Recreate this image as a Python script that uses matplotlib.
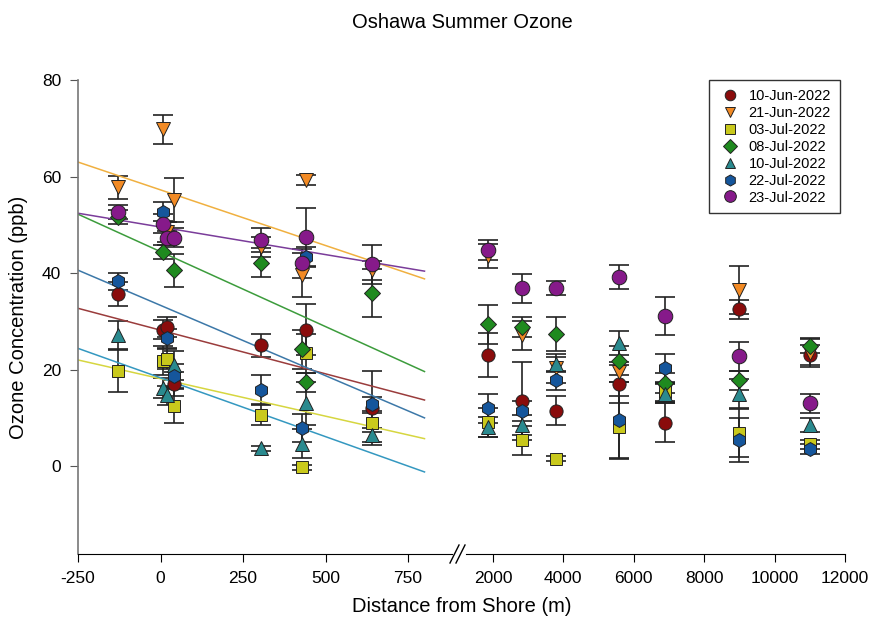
import matplotlib
matplotlib.use('Agg')
import matplotlib.pyplot as plt
from matplotlib.lines import Line2D

plt.rcParams['font.family'] = ['Liberation Sans', 'DejaVu Sans']
plt.rcParams['axes.unicode_minus'] = False

# sampling sites (m from shore)
sites = [-130, 8, 20, 42, 305, 430, 442, 640, 1870, 2830, 3790, 5580, 6900, 8980, 11000]

dates = ['10-Jun-2022', '21-Jun-2022', '03-Jul-2022', '08-Jul-2022',
         '10-Jul-2022', '22-Jul-2022', '23-Jul-2022']

jun10_x = [-130, 8, 20, 42, 305, 442, 640, 1870, 2830, 3790, 5580, 6900, 8980, 11000]
jun10_y = [35.7, 28.3, 28.8, 17.0, 25.0, 28.3, 12.0, 23.0, 13.5, 11.5, 17.0, 9.0, 32.5, 23.0]
jun10_e = [2.5, 2.0, 2.0, 2.5, 2.3, 5.2, 7.7, 4.5, 8.0, 3.0, 4.0, 4.0, 2.0, 2.0]

jun21_x = sites
jun21_y = [57.8, 69.8, 48.5, 55.1, 45.4, 39.6, 59.3, 40.6, 43.5, 27.1, 20.3, 19.5, 15.5, 36.5, 23.5]
jun21_e = [2.4, 3.0, 2.0, 4.6, 2.0, 4.6, 1.0, 2.0, 2.5, 3.0, 3.0, 2.0, 2.0, 5.0, 3.0]

jul03_x = sites
jul03_y = [19.8, 21.8, 22.2, 12.4, 10.6, -0.2, 23.4, 9.0, 9.1, 5.4, 1.5, 8.1, 15.3, 6.8, 4.5]
jul03_e = [4.5, 3.0, 2.0, 3.5, 2.0, 0.5, 4.0, 2.0, 3.0, 3.0, 0.5, 6.5, 2.0, 5.0, 1.0]

jul08_x = [-130, 8, 42, 305, 430, 442, 640, 1870, 2830, 3790, 5580, 6900, 8980, 11000]
jul08_y = [51.6, 44.4, 40.6, 42.1, 24.2, 17.4, 35.8, 29.4, 28.8, 27.4, 21.8, 17.2, 17.8, 24.9]
jul08_e = [1.5, 1.5, 3.4, 3.0, 4.0, 2.0, 5.0, 4.0, 2.0, 3.5, 3.0, 2.0, 2.0, 1.5]

jul10_x = sites
jul10_y = [27.1, 16.2, 14.7, 20.9, 3.7, 4.6, 13.0, 6.4, 8.1, 8.5, 21.1, 25.5, 15.0, 15.0, 8.5]
jul10_e = [3.0, 2.0, 2.0, 3.0, 0.5, 3.0, 4.5, 1.5, 2.0, 2.0, 1.5, 2.5, 2.0, 3.0, 1.5]

jul22_x = sites
jul22_y = [38.3, 52.7, 26.5, 18.7, 15.8, 7.9, 43.3, 12.9, 12.0, 11.4, 17.8, 9.5, 20.3, 5.4, 3.5]
jul22_e = [1.8, 2.0, 2.0, 2.5, 3.0, 3.0, 2.0, 1.5, 3.0, 2.0, 2.0, 8.0, 3.0, 4.5, 1.0]

jul23_x = sites
jul23_y = [52.6, 50.2, 47.3, 47.3, 46.8, 42.0, 47.5, 41.8, 44.8, 36.9, 36.9, 39.2, 31.1, 22.8, 13.0]
jul23_e = [1.5, 2.0, 1.5, 2.0, 2.5, 3.0, 6.0, 4.0, 2.0, 3.0, 1.5, 2.5, 4.0, 3.0, 2.0]

# regression lines for the near-shore sites, read at x=-250 and x=800
trend_x = [-250, 800]
trend_start = [32.7, 63.0, 22.0, 52.2, 24.4, 40.6, 52.4]
trend_end = [13.7, 38.8, 5.7, 19.6, -1.2, 10.0, 40.4]

xs = [jun10_x, jun21_x, jul03_x, jul08_x, jul10_x, jul22_x, jul23_x]
ys = [jun10_y, jun21_y, jul03_y, jul08_y, jul10_y, jul22_y, jul23_y]
es = [jun10_e, jun21_e, jul03_e, jul08_e, jul10_e, jul22_e, jul23_e]

colors = ['#8a0c0c', '#f28a24', '#c9c91c', '#1f8a1f', '#2a8a8f', '#15569c', '#861a8a']
line_colors = ['#9a3c3c', '#f0b040', '#d6d640', '#3c9c3c', '#3498c0', '#3c78a8', '#7a3c9a']
markers = ['o', 'v', 's', 'D', '^', 'h', 'o']
msizes = [9.5, 9.5, 8.5, 8.5, 9.5, 10, 10.5]

fig = plt.figure(figsize=(8.72, 6.29), dpi=100)
W, H = 872.0, 629.0
bot = 1 - 554 / H
top = 1 - 80 / H
ax1 = fig.add_axes([78 / W, bot, (452 - 78) / W, top - bot])
ax2 = fig.add_axes([466 / W, bot, (845 - 466) / W, top - bot])

for ax in (ax1, ax2):
    for i in range(len(dates)):
        ax.errorbar(xs[i], ys[i], yerr=es[i], fmt='none', ecolor='#222222',
                    elinewidth=1.2, capsize=7, capthick=1.2, zorder=2)
    for i in range(len(dates)):
        ax.plot(xs[i], ys[i], linestyle='none', marker=markers[i], ms=msizes[i],
                mfc=colors[i], mec='#222222', mew=0.7, zorder=3 + i,
                label=dates[i])
    ax.set_ylim(-18.2, 80)
    ax.spines['top'].set_visible(False)
    ax.spines['right'].set_visible(False)
    ax.tick_params(direction='out', length=6, labelsize=12.5, pad=6)

for i in range(len(dates)):
    ax1.plot(trend_x, [trend_start[i], trend_end[i]], color=line_colors[i], lw=1.1, zorder=2.5)

ax1.set_xlim(-250, -250 + (452 - 78) / 0.33)
ax1.set_xticks([-250, 0, 250, 500, 750])
ax1.set_yticks([0, 20, 40, 60, 80])
ax1.spines['left'].set_color('#777777')
ax1.spines['left'].set_linewidth(1.2)
ax1.tick_params(axis='y', color='#555555')

ax2.set_xlim(2000 - (493 - 466) * 2000 / 70.5, 12000)
ax2.set_xticks([2000, 4000, 6000, 8000, 10000, 12000])
ax2.spines['left'].set_visible(False)
ax2.set_yticks([])

# axis break marks
for dx in (0, 6):
    fig.add_artist(Line2D([(450 + dx) / W, (459 + dx) / W], [1 - 563 / H, 1 - 545 / H],
                          transform=fig.transFigure, color='black', lw=1))

fig.text(462 / W, 1 - 23 / H, 'Oshawa Summer Ozone', ha='center', va='center', fontsize=14.5)
fig.text(462 / W, 1 - 607 / H, 'Distance from Shore (m)', ha='center', va='center', fontsize=14.5)
fig.text(19 / W, 1 - 317 / H, 'Ozone Concentration (ppb)', ha='center', va='center',
         rotation=90, fontsize=14.5)

h, l = ax1.get_legend_handles_labels()
leg = fig.legend(h, l, loc='upper left', bbox_to_anchor=(702 / W, 1 - 73 / H),
                 frameon=True, fancybox=False, edgecolor='black', fontsize=10.5,
                 handletextpad=0.5, handlelength=1.6, labelspacing=0.2, borderpad=0.6,
                 markerscale=0.8)
leg.get_frame().set_linewidth(1.0)

fig.savefig('out.png', dpi=100)
